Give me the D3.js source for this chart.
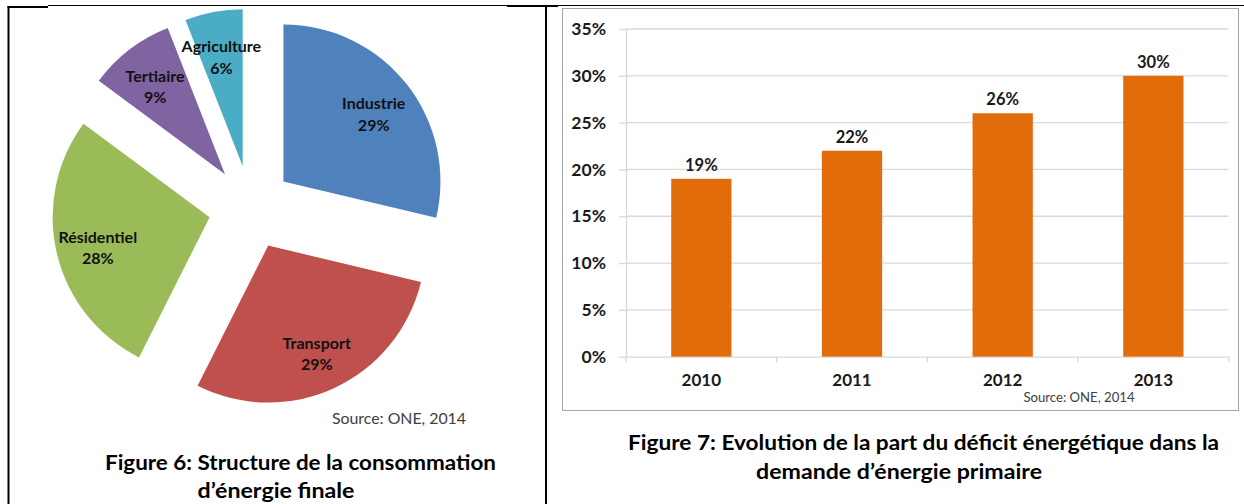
<!DOCTYPE html>
<html>
<head>
<meta charset="utf-8">
<script src="https://cdn.jsdelivr.net/npm/d3@7"></script>
<style>
  body { margin: 0; background: #fff; }
  svg { display: block; }
  text { font-family: Lato, "Open Sans", sans-serif; }
</style>
</head>
<body>
<script>
// pie data (Figure 6)
var sectors = ["Industrie", "Transport", "Résidentiel", "Tertiaire", "Agriculture"];
var shares = [29, 29, 28, 9, 6];
var sectorColors = ["#4F81BD", "#C0504D", "#9BBB59", "#8064A2", "#4BACC6"];

// bar data (Figure 7)
var years = ["2010", "2011", "2012", "2013"];
var deficit = [19, 22, 26, 30];
var yTickValues = [0, 5, 10, 15, 20, 25, 30, 35];

var width = 1244, height = 504;

var svg = d3.select("body").append("svg")
    .attr("width", width)
    .attr("height", height);

function fitWidth(sel, w) {
  sel.each(function() {
    var len = this.getComputedTextLength();
    if (Math.abs(len - w) > 1) {
      d3.select(this).attr("textLength", w).attr("lengthAdjust", "spacingAndGlyphs");
    }
  });
}

// table borders
var borders = svg.append("g").attr("stroke", "#000");
borders.append("line").attr("x1", 48).attr("x2", 507).attr("y1", 5.5).attr("y2", 5.5).attr("stroke-width", 1);
borders.append("line").attr("x1", 558).attr("x2", 1244).attr("y1", 5.5).attr("y2", 5.5).attr("stroke-width", 1);
borders.append("line").attr("x1", 7.5).attr("x2", 48).attr("y1", 7).attr("y2", 7).attr("stroke-width", 2);
borders.append("line").attr("x1", 507).attr("x2", 558).attr("y1", 6).attr("y2", 6).attr("stroke-width", 2);
borders.append("line").attr("x1", 8.5).attr("x2", 8.5).attr("y1", 6).attr("y2", height).attr("stroke-width", 2);
borders.append("line").attr("x1", 546).attr("x2", 546).attr("y1", 6).attr("y2", height).attr("stroke-width", 2);

// ---------- Figure 6: exploded pie ----------
var radius = 157, explode = 42;
var pieG = svg.append("g").attr("transform", "translate(250.5,207.5)");

var pie = d3.pie().sort(null).value(function(d) { return d; });
var arc = d3.arc().innerRadius(0).outerRadius(radius);
var labelArc = d3.arc().innerRadius(115).outerRadius(115);
var arcs = pie(shares);

function shift(d) {
  var mid = (d.startAngle + d.endAngle) / 2;
  return [Math.sin(mid) * explode, -Math.cos(mid) * explode];
}

var slice = pieG.selectAll("g.slice")
    .data(arcs)
  .enter().append("g")
    .attr("class", "slice")
    .attr("transform", function(d) { var s = shift(d); return "translate(" + s[0] + "," + s[1] + ")"; });

slice.append("path")
    .attr("d", arc)
    .attr("fill", function(d, i) { return sectorColors[i]; });

var lab = slice.append("text")
    .attr("transform", function(d) { return "translate(" + labelArc.centroid(d) + ")"; })
    .attr("text-anchor", "middle")
    .attr("font-weight", "bold")
    .attr("font-size", 16)
    .attr("fill", "#111");
lab.append("tspan").attr("x", 0).attr("y", -1).text(function(d, i) { return sectors[i]; });
lab.append("tspan").attr("x", 0).attr("y", 20.5).text(function(d) { return d.value + "%"; });

svg.append("text")
    .attr("x", 399).attr("y", 423.5)
    .attr("text-anchor", "middle")
    .attr("font-size", 15)
    .attr("fill", "#404040")
    .text("Source: ONE, 2014")
    .call(fitWidth, 134);

svg.append("text")
    .attr("x", 300.5).attr("y", 470)
    .attr("text-anchor", "middle")
    .attr("font-weight", "bold").attr("font-size", 20)
    .text("Figure 6: Structure de la consommation")
    .call(fitWidth, 391);
svg.append("text")
    .attr("x", 276).attr("y", 498)
    .attr("text-anchor", "middle")
    .attr("font-weight", "bold").attr("font-size", 20)
    .text("d’énergie finale")
    .call(fitWidth, 157);

// ---------- Figure 7: bar chart ----------
svg.append("rect")
    .attr("x", 562.5).attr("y", 8.5)
    .attr("width", 676).attr("height", 402)
    .attr("fill", "none")
    .attr("stroke", "#a6a6a6");

var plot = { left: 626, right: 1228.7, top: 29, bottom: 356.7 };

var x = d3.scaleBand().domain(years).range([plot.left, plot.right]).padding(0);
var y = d3.scaleLinear().domain([0, 35]).range([plot.bottom, plot.top]);

var barG = svg.append("g");

// gridlines
barG.append("g").selectAll("line")
    .data(yTickValues.slice(1))
  .enter().append("line")
    .attr("x1", plot.left).attr("x2", plot.right)
    .attr("y1", function(d) { return y(d); })
    .attr("y2", function(d) { return y(d); })
    .attr("stroke", "#d9d9d9")
    .attr("stroke-width", 1.3);

var yAxis = barG.append("g")
    .attr("transform", "translate(" + plot.left + ",0)")
    .call(d3.axisLeft(y)
      .tickValues(yTickValues)
      .tickFormat(function(d) { return d + "%"; })
      .tickSizeInner(7).tickSizeOuter(0).tickPadding(13));
yAxis.selectAll("line, path").attr("stroke", "#d9d9d9").attr("stroke-width", 1.3);
yAxis.selectAll("text")
    .attr("font-family", "Lato, 'Open Sans', sans-serif")
    .attr("font-weight", "bold").attr("font-size", 17.5).attr("fill", "#1a1a1a");

var xAxis = barG.append("g")
    .attr("transform", "translate(0," + plot.bottom + ")")
    .call(d3.axisBottom(x).tickSize(0).tickPadding(17));
xAxis.select("path").attr("stroke", "#d9d9d9").attr("stroke-width", 1.3);
xAxis.selectAll("text")
    .attr("font-family", "Lato, 'Open Sans', sans-serif")
    .attr("font-weight", "bold").attr("font-size", 17).attr("fill", "#1a1a1a");

// category boundary ticks
var bounds = years.map(function(d) { return x(d); }).concat([plot.right]);
barG.append("g").selectAll("line")
    .data(bounds)
  .enter().append("line")
    .attr("x1", function(d) { return d; }).attr("x2", function(d) { return d; })
    .attr("y1", plot.bottom).attr("y2", plot.bottom + 5.5)
    .attr("stroke", "#d9d9d9").attr("stroke-width", 1.3);

var barW = x.bandwidth() * 0.4;

barG.append("g").selectAll("rect")
    .data(deficit)
  .enter().append("rect")
    .attr("x", function(d, i) { return x(years[i]) + (x.bandwidth() - barW) / 2; })
    .attr("y", function(d) { return y(d); })
    .attr("width", barW)
    .attr("height", function(d) { return y(0) - y(d); })
    .attr("fill", "#E36C0A");

barG.append("g").selectAll("text")
    .data(deficit)
  .enter().append("text")
    .attr("x", function(d, i) { return x(years[i]) + x.bandwidth() / 2; })
    .attr("y", function(d) { return y(d) - 8; })
    .attr("text-anchor", "middle")
    .attr("font-weight", "bold").attr("font-size", 16.5)
    .attr("fill", "#1a1a1a")
    .text(function(d) { return d + "%"; });

svg.append("text")
    .attr("x", 1079).attr("y", 402)
    .attr("text-anchor", "middle")
    .attr("font-size", 12.5)
    .attr("fill", "#404040")
    .text("Source: ONE, 2014")
    .call(fitWidth, 111);

svg.append("text")
    .attr("x", 923.5).attr("y", 450)
    .attr("text-anchor", "middle")
    .attr("font-weight", "bold").attr("font-size", 20)
    .text("Figure 7: Evolution de la part du déficit énergétique dans la")
    .call(fitWidth, 591);
svg.append("text")
    .attr("x", 899).attr("y", 479)
    .attr("text-anchor", "middle")
    .attr("font-weight", "bold").attr("font-size", 20)
    .text("demande d’énergie primaire")
    .call(fitWidth, 286);
</script>
</body>
</html>
